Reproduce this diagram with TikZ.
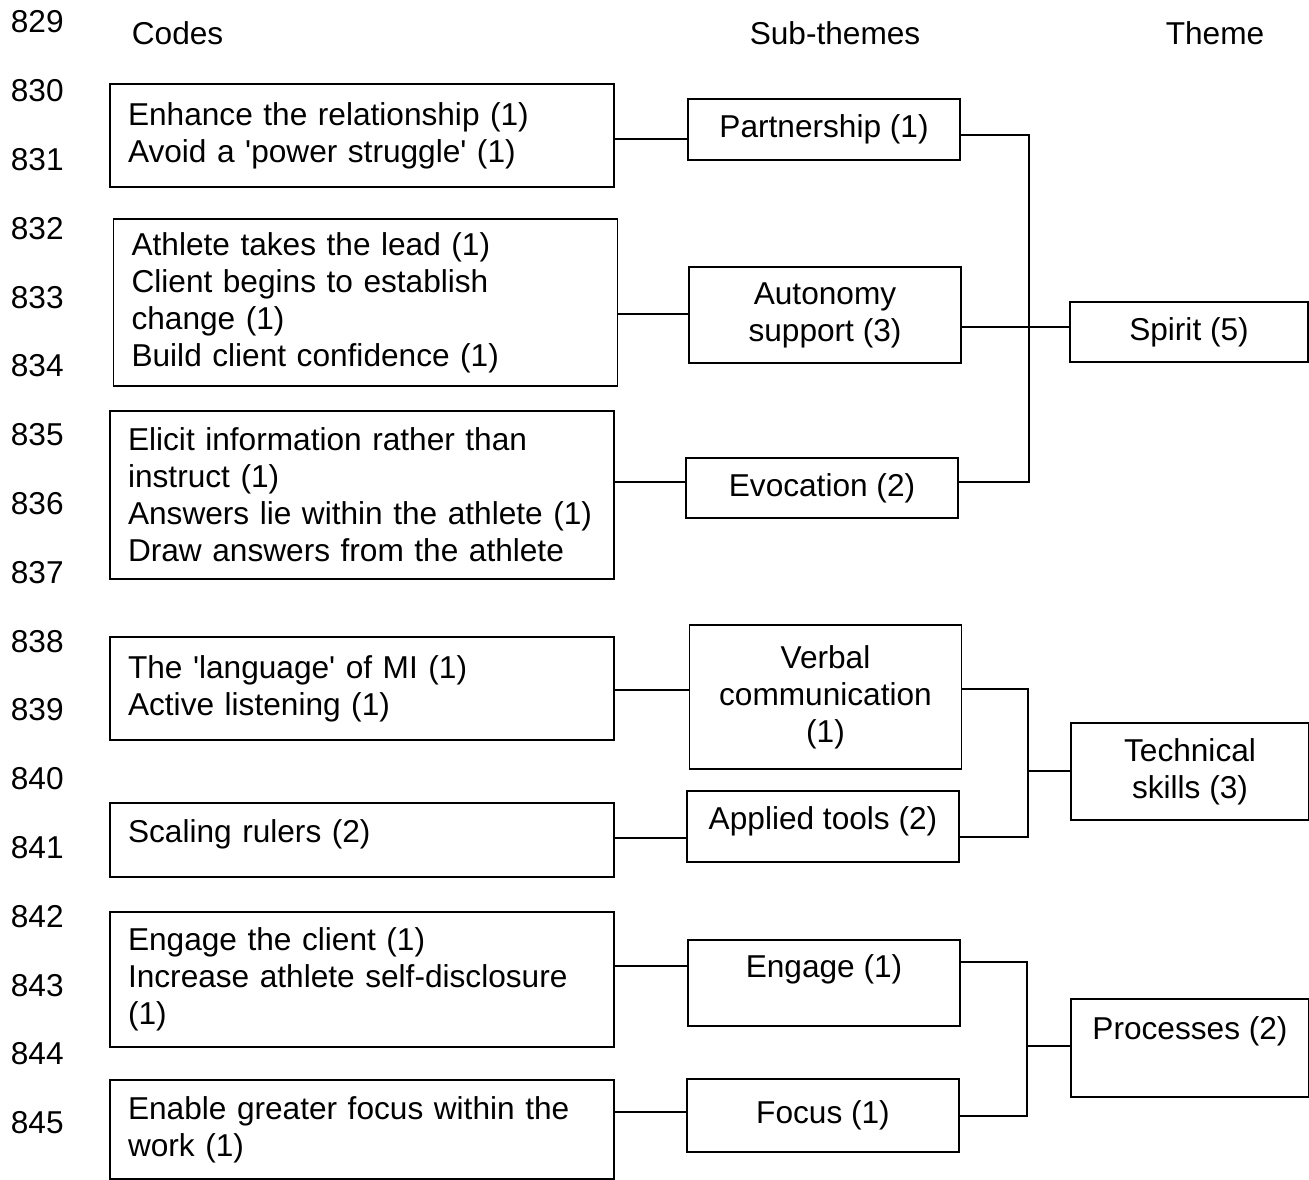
\documentclass[tikz,border=0pt]{standalone}
\usepackage{fontspec}
\setmainfont{Liberation Sans}
\usetikzlibrary{positioning}
\tikzset{
  every picture/.style={line width=1pt},
  codebox/.style={draw, text width=9.36cm, inner xsep=0.36cm, inner ysep=0pt, align=left},
  subbox/.style={draw, minimum width=5.44cm, inner sep=2pt, align=center},
  themebox/.style={draw, minimum width=4.76cm, inner sep=2pt, align=center},
  boxh/.style={minimum height=#1*0.02cm},
  linenum/.style={anchor=west, inner sep=0pt},
  header/.style={inner sep=0pt},
  link/.style={draw, line width=1pt},
}

\begin{document}
\begin{tikzpicture}[x=0.02cm, y=-0.02cm, font=\fontsize{18pt}{21pt}\selectfont]
  \useasboundingbox (0,0) rectangle (1309,1180);
  % line numbers
  \foreach \n [count=\k from 0] in {829,...,845}
    \node[linenum] (ln\n) at (10,22+68.8*\k) {\n};
  % column heads
  \node[header, anchor=west] (hcodes) at (131,33) {Codes};
  \node[header] (hsub) at (835,33) {Sub-themes};
  \node[header] (htheme) at (1215,33) {Theme};
  % codes
  \node[codebox, boxh=103] (enhance) at (362,135.5) {Enhance the relationship (1)\\Avoid a \textquotesingle power struggle\textquotesingle{} (1)};
  \node[codebox, boxh=167] (athlete) at (365.5,302.5) {Athlete takes the lead (1)\\Client begins to establish\\change (1)\\Build client confidence (1)};
  \node[codebox, boxh=168] (elicit) at (362,495) {Elicit information rather than\\instruct (1)\\Answers lie within the athlete (1)\\Draw answers from the athlete};
  \node[codebox, boxh=103] (language) at (362,688.5) {The \textquotesingle language\textquotesingle{} of MI (1)\\Active listening (1)};
  \node[codebox, boxh=74, text depth=10.6pt] (scaling) at (362,840) {Scaling rulers (2)};
  \node[codebox, boxh=135] (engclient) at (362,979.5) {Engage the client (1)\\Increase athlete self-disclosure\\(1)};
  \node[codebox, boxh=99] (enable) at (362,1129.5) {Enable greater focus within the\\work (1)};
  % sub-themes
  \node[subbox, boxh=61] (partnership) at (824,129.5) {Partnership (1)};
  \node[subbox, boxh=96] (autonomy) at (825,315) {Autonomy\\support (3)};
  \node[subbox, boxh=60] (evocation) at (822,488) {Evocation (2)};
  \node[subbox, boxh=144] (verbal) at (825.5,697) {Verbal\\communication\\(1)};
  \node[subbox, boxh=71, text depth=10pt] (applied) at (823,826.5) {Applied tools (2)};
  \node[subbox, boxh=86, text depth=19.7pt] (engage) at (824,983) {Engage (1)};
  \node[subbox, boxh=73] (focus) at (823,1115.5) {Focus (1)};
  % themes
  \node[themebox, boxh=60] (spirit) at (1189,332) {Spirit (5)};
  \node[themebox, boxh=97] (technical) at (1190,771.5) {Technical\\skills (3)};
  \node[themebox, boxh=98, text depth=23pt] (processes) at (1190,1048) {Processes (2)};
  % codes to sub-themes
  \draw[link] (enhance.east |- 0,139) -- (partnership.west |- 0,139);
  \draw[link] (athlete.east |- 0,314) -- (autonomy.west |- 0,314);
  \draw[link] (elicit.east |- 0,482) -- (evocation.west |- 0,482);
  \draw[link] (language.east |- 0,690) -- (verbal.west |- 0,690);
  \draw[link] (scaling.east |- 0,838) -- (applied.west |- 0,838);
  \draw[link] (engclient.east |- 0,966) -- (engage.west |- 0,966);
  \draw[link] (enable.east |- 0,1112) -- (focus.west |- 0,1112);
  % sub-themes to themes
  \coordinate (spiritjoin) at (1029,327);
  \draw[link] (partnership.east |- 0,135) -| (spiritjoin) |- (evocation.east |- 0,482);
  \draw[link] (autonomy.east |- spiritjoin) -- (spirit.west |- spiritjoin);
  \coordinate (techjoin) at (1028,771);
  \draw[link] (verbal.east |- 0,689) -| (techjoin) |- (applied.east |- 0,837);
  \draw[link] (techjoin) -- (technical.west |- techjoin);
  \coordinate (procjoin) at (1027,1046);
  \draw[link] (engage.east |- 0,962) -| (procjoin) |- (focus.east |- 0,1116);
  \draw[link] (procjoin) -- (processes.west |- procjoin);
\end{tikzpicture}
\end{document}
